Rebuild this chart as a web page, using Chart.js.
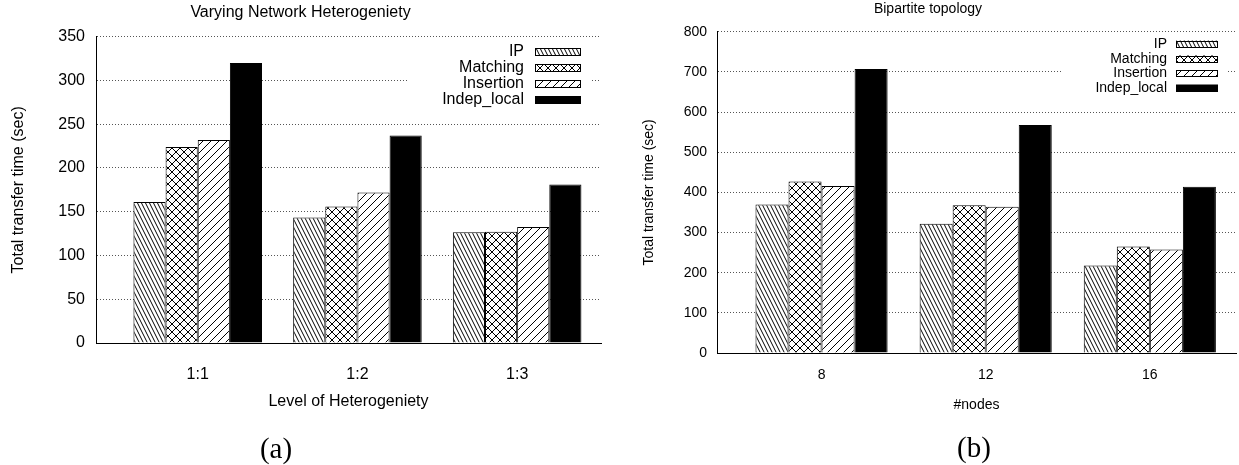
<!DOCTYPE html>
<html>
<head>
<meta charset="utf-8">
<script src="https://cdn.jsdelivr.net/npm/chart.js@4.4.0/dist/chart.umd.min.js"></script>
<style>
  body { margin: 0; background: #fff; }
  #wrap { position: relative; width: 1239px; height: 465px; overflow: hidden; }
  canvas { position: absolute; top: 0; }
  .cap { position: absolute; font-family: 'Liberation Serif', 'Times New Roman', serif; font-size: 29px; line-height: 1; transform: translate(-50%, -50%); }
</style>
</head>
<body>
<div id="wrap">
  <canvas id="chartHetero" width="620" height="465" style="left:0"></canvas>
  <canvas id="chartNodes" width="619" height="465" style="left:620px"></canvas>
  <div class="cap" style="left:276px; top:448px">(a)</div>
  <div class="cap" style="left:974px; top:447px">(b)</div>
</div>
<script>
const seriesNames = ['IP', 'Matching', 'Insertion', 'Indep_local'];

// (a) Varying Network Heterogeniety
const heteroLevels = ['1:1', '1:2', '1:3'];
const heteroIP = [161, 143.5, 126.5];
const heteroMatching = [224, 156, 127];
const heteroInsertion = [232, 172, 132.5];
const heteroIndep = [320, 237, 181];
const heteroTicks = [0, 50, 100, 150, 200, 250, 300, 350];

// (b) Bipartite topology
const nodeCounts = ['8', '12', '16'];
const nodesIP = [370, 322, 218];
const nodesMatching = [427, 368, 265];
const nodesInsertion = [416, 364, 258];
const nodesIndep = [707, 568, 414];
const nodesTicks = [0, 100, 200, 300, 400, 500, 600, 700, 800];

Chart.defaults.font.family = "'Liberation Sans', Arial, Helvetica, sans-serif";
Chart.defaults.color = '#000';

// gnuplot-like fill patterns
function makePattern(kind) {
  const tile = document.createElement('canvas');
  const w = kind === 'back' ? 4 : 8;
  const h = 8;
  tile.width = w; tile.height = h;
  const p = tile.getContext('2d');
  p.fillStyle = '#fff';
  p.fillRect(0, 0, w, h);
  p.strokeStyle = '#000';
  p.lineWidth = 1;
  p.beginPath();
  for (let k = -1; k <= 1; k++) {
    if (kind === 'back' || kind === 'cross') { p.moveTo(k * w, 0); p.lineTo(k * w + w, h); }
    if (kind === 'fwd' || kind === 'cross') { p.moveTo(k * w, h); p.lineTo(k * w + w, 0); }
  }
  p.stroke();
  return p.createPattern(tile, 'repeat');
}
const fills = [makePattern('back'), makePattern('cross'), makePattern('fwd'), '#000'];

// key drawn like gnuplot: label on the left, sample box on the right
const gnuKey = {
  id: 'gnuKey',
  afterDraw(chart, args, o) {
    const ctx = chart.ctx;
    ctx.save();
    ctx.fillStyle = '#fff';
    ctx.fillRect(o.bg[0], o.bg[1], o.bg[2], o.bg[3]);
    ctx.font = o.fontSize + "px 'Liberation Sans', Arial, sans-serif";
    ctx.textAlign = 'right';
    ctx.textBaseline = 'middle';
    chart.data.datasets.forEach((ds, i) => {
      const y = o.rows[i];
      ctx.fillStyle = '#000';
      ctx.fillText(ds.label, o.textRight, y);
      ctx.fillStyle = ds.backgroundColor;
      ctx.fillRect(o.boxX, y - o.boxH / 2, o.boxW, o.boxH);
      ctx.strokeStyle = '#000';
      ctx.lineWidth = 1;
      ctx.strokeRect(o.boxX + 0.5, Math.round(y - o.boxH / 2) + 0.5, o.boxW - 1, o.boxH - 1);
    });
    ctx.restore();
  }
};

function buildChart(id, cfg) {
  const series = [cfg.ip, cfg.matching, cfg.insertion, cfg.indep];
  const datasets = series.map((vals, i) => ({
    label: seriesNames[i],
    data: vals.map((v, j) => ({ x: j, y: v })),
    backgroundColor: fills[i],
    borderColor: '#000',
    borderWidth: 1,
    barPercentage: 1,
    categoryPercentage: 0.805
  }));

  return new Chart(document.getElementById(id), {
    type: 'bar',
    data: { datasets: datasets },
    plugins: [gnuKey],
    options: {
      responsive: false,
      animation: false,
      devicePixelRatio: 1,
      layout: { padding: { left: 0, right: cfg.padRight, top: 0, bottom: 0 } },
      plugins: {
        legend: { display: false },
        tooltip: { enabled: false },
        title: {
          display: true,
          text: cfg.title,
          color: '#000',
          font: { size: cfg.fontSize, weight: 'normal' },
          padding: { top: cfg.titleTop, bottom: cfg.titleBottom }
        },
        gnuKey: cfg.key
      },
      scales: {
        x: {
          type: 'linear',
          offset: false,
          min: -0.637,
          max: 2.525,
          afterBuildTicks: s => { s.ticks = cfg.categories.map((c, i) => ({ value: i })); },
          afterFit: s => { s.height = cfg.xHeight; },
          ticks: {
            autoSkip: false,
            maxRotation: 0,
            padding: cfg.xTickPad,
            font: { size: cfg.fontSize },
            callback: v => cfg.categories[v]
          },
          grid: { display: false, drawTicks: false },
          border: { display: true, color: '#000', width: 1 },
          title: {
            display: true,
            text: cfg.xTitle,
            font: { size: cfg.fontSize },
            padding: { top: 0, bottom: cfg.xTitlePad }
          }
        },
        y: {
          min: 0,
          max: cfg.yTicks[cfg.yTicks.length - 1],
          afterBuildTicks: s => { s.ticks = cfg.yTicks.map(v => ({ value: v })); },
          afterFit: s => { s.width = cfg.yWidth; },
          ticks: { padding: cfg.yTickPad, font: { size: cfg.fontSize } },
          grid: {
            drawTicks: false,
            color: c => (c.tick && c.tick.value === 0) ? 'rgba(0,0,0,0)' : '#555',
            lineWidth: 1
          },
          border: { display: true, color: '#000', width: 1, dash: [1, 2] },
          title: {
            display: true,
            text: 'Total transfer time (sec)',
            font: { size: cfg.fontSize },
            padding: { top: cfg.yTitlePad, bottom: 0 }
          }
        }
      }
    }
  });
}

buildChart('chartHetero', {
  title: 'Varying Network Heterogeniety',
  xTitle: 'Level of Heterogeniety',
  categories: heteroLevels,
  ip: heteroIP, matching: heteroMatching, insertion: heteroInsertion, indep: heteroIndep,
  yTicks: heteroTicks,
  fontSize: 16,
  padRight: 19,
  titleTop: 3.4, titleBottom: 14.1,
  yWidth: 96, yTickPad: 11, yTitlePad: 9.4,
  xHeight: 122, xTickPad: 22.4, xTitlePad: 53.7,
  key: {
    fontSize: 16, rows: [52, 68, 84, 100], textRight: 524,
    boxX: 535, boxW: 46, boxH: 8, bg: [408, 41, 183, 67]
  }
});

buildChart('chartNodes', {
  title: 'Bipartite topology',
  xTitle: '#nodes',
  categories: nodeCounts,
  ip: nodesIP, matching: nodesMatching, insertion: nodesInsertion, indep: nodesIndep,
  yTicks: nodesTicks,
  fontSize: 14,
  padRight: 3,
  titleTop: 0.6, titleBottom: 14.3,
  yWidth: 97, yTickPad: 10, yTitlePad: 21.1,
  xHeight: 112, xTickPad: 13.6, xTitlePad: 51.6,
  key: {
    fontSize: 14, rows: [44, 59, 73.5, 88], textRight: 547,
    boxX: 556, boxW: 42, boxH: 7, bg: [443, 35, 163, 70]
  }
});
</script>
</body>
</html>
